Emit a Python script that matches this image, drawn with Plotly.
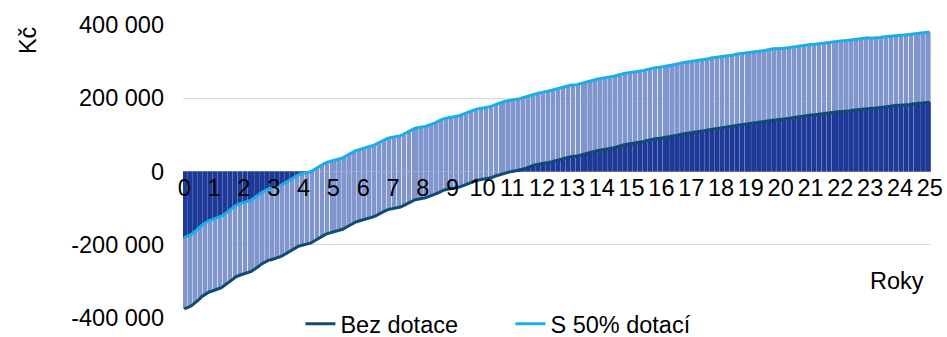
import plotly.graph_objects as go

# Cumulative cash flow, monthly, in thousands of Kč
bez_dotace_k = [
    -375, -373, -370, -366, -361, -355, -349, -342, -337, -332, -329, -327,
    -325, -323, -320, -317, -312, -307, -302, -296, -291, -287, -284, -282,
    -280, -278, -276, -273, -268, -264, -259, -253, -249, -245, -242, -241,
    -239, -237, -235, -232, -228, -224, -219, -214, -210, -207, -204, -202,
    -201, -200, -197, -195, -191, -187, -183, -178, -174, -171, -169, -167,
    -166, -165, -163, -160, -157, -153, -149, -144, -141, -138, -136, -134,
    -133, -132, -130, -127, -124, -121, -117, -113, -109, -107, -104, -103,
    -102, -101, -99, -97, -94, -90, -87, -83, -80, -77, -75, -74,
    -73, -72, -70, -68, -65, -62, -59, -55, -52, -50, -48, -47,
    -46, -45, -44, -42, -39, -36, -34, -30, -28, -26, -24, -23,
    -22, -21, -20, -18, -16, -13, -11, -8, -5, -3, -2, -1,
    0, 1, 2, 4, 6, 8, 11, 14, 16, 18, 19, 20,
    21, 22, 23, 25, 27, 29, 31, 34, 36, 38, 39, 40,
    41, 41, 42, 44, 46, 48, 50, 52, 54, 56, 57, 58,
    59, 59, 60, 62, 63, 65, 67, 70, 71, 73, 74, 75,
    76, 76, 77, 78, 80, 82, 84, 86, 87, 89, 90, 90,
    91, 92, 93, 94, 95, 97, 99, 100, 102, 103, 104, 105,
    106, 106, 107, 108, 109, 111, 113, 114, 116, 117, 118, 118,
    119, 120, 120, 121, 123, 124, 126, 127, 129, 130, 131, 131,
    132, 132, 133, 134, 135, 136, 138, 139, 140, 141, 142, 143,
    143, 143, 144, 145, 146, 147, 149, 150, 151, 152, 153, 153,
    154, 154, 155, 155, 156, 158, 159, 160, 161, 162, 163, 163,
    164, 164, 164, 165, 166, 167, 168, 169, 170, 171, 172, 172,
    173, 173, 173, 174, 175, 176, 177, 178, 179, 180, 180, 181,
    181, 181, 182, 182, 183, 184, 185, 186, 187, 188, 188, 189,
    189,
]

s_dotaci_k = [
    -180, -178, -175, -171, -166, -160, -154, -147, -142, -137, -134, -132,
    -130, -128, -125, -122, -117, -112, -107, -101, -96, -92, -89, -87,
    -85, -83, -81, -78, -73, -69, -64, -58, -54, -50, -47, -46,
    -44, -42, -40, -37, -33, -29, -24, -19, -15, -12, -9, -7,
    -6, -5, -2, 0, 4, 8, 12, 17, 21, 24, 26, 28,
    29, 30, 32, 35, 38, 42, 46, 51, 54, 57, 59, 61,
    62, 63, 65, 68, 71, 74, 78, 82, 86, 88, 91, 92,
    93, 94, 96, 98, 101, 105, 108, 112, 115, 118, 120, 121,
    122, 123, 125, 127, 130, 133, 136, 140, 143, 145, 147, 148,
    149, 150, 151, 153, 156, 159, 161, 165, 167, 169, 171, 172,
    173, 174, 175, 177, 179, 182, 184, 187, 190, 192, 193, 194,
    195, 196, 197, 199, 201, 203, 206, 209, 211, 213, 214, 215,
    216, 217, 218, 220, 222, 224, 226, 229, 231, 233, 234, 235,
    236, 236, 237, 239, 241, 243, 245, 247, 249, 251, 252, 253,
    254, 254, 255, 257, 258, 260, 262, 265, 266, 268, 269, 270,
    270, 270, 271, 272, 274, 276, 278, 280, 281, 283, 284, 284,
    285, 286, 287, 288, 289, 291, 293, 294, 296, 297, 298, 299,
    300, 300, 301, 302, 303, 305, 307, 308, 310, 311, 312, 312,
    313, 314, 314, 315, 317, 318, 320, 321, 323, 324, 325, 325,
    326, 326, 327, 328, 329, 330, 332, 333, 334, 335, 336, 337,
    336, 336, 337, 338, 339, 340, 342, 343, 344, 345, 346, 346,
    347, 347, 348, 348, 349, 351, 352, 353, 354, 355, 356, 356,
    357, 357, 357, 358, 359, 360, 361, 362, 363, 364, 365, 365,
    364, 364, 364, 365, 366, 367, 368, 369, 370, 371, 371, 372,
    372, 372, 373, 373, 374, 375, 376, 377, 378, 379, 379, 380,
    380,
]

year_labels = ["0", "1", "2", "3", "4", "5", "6", "7", "8", "9", "10", "11", "12",
               "13", "14", "15", "16", "17", "18", "19", "20", "21", "22", "23",
               "24", "25"]
y_tick_values = [-400000, -200000, 0, 200000, 400000]
y_tick_text = ["-400 000", "-200 000", "0", "200 000", "400 000"]

months = list(range(len(bez_dotace_k)))
year_tick_pos = months[::12]
bez = [v * 1000 for v in bez_dotace_k]
s50 = [v * 1000 for v in s_dotaci_k]
# part of each month where both series' columns overlap (same sign)
overlap = [(a if abs(a) < abs(b) else b) if a * b > 0 else 0 for a, b in zip(bez, s50)]

FONT = "Liberation Sans, Arial, sans-serif"
FS = 23.5
LIGHT = "rgb(128,150,205)"
DARK = "rgb(30,58,150)"
DARK_GAP = "rgb(88,112,182)"
W = 0.68

fig = go.Figure()
fig.add_bar(x=months, y=overlap, width=1.0, marker=dict(color=DARK_GAP, line_width=0),
            showlegend=False, hoverinfo="skip")
fig.add_bar(x=months, y=bez, width=W, marker=dict(color=LIGHT, line_width=0),
            showlegend=False, hoverinfo="skip")
fig.add_bar(x=months, y=s50, width=W, marker=dict(color=LIGHT, line_width=0),
            showlegend=False, hoverinfo="skip")
fig.add_bar(x=months, y=overlap, width=W, marker=dict(color=DARK, line_width=0),
            showlegend=False, hoverinfo="skip")
fig.add_scatter(x=months, y=bez, mode="lines", name="Bez dotace",
                line=dict(color="#0F4C72", width=3))
fig.add_scatter(x=months, y=s50, mode="lines", name="S 50% dotací",
                line=dict(color="#1AAEE8", width=3))

fig.update_layout(
    width=947, height=337,
    margin=dict(l=183, r=16, t=25, b=19, autoexpand=False),
    paper_bgcolor="white", plot_bgcolor="white",
    barmode="overlay",
    font=dict(family=FONT, size=FS, color="black"),
    legend=dict(orientation="h", x=0.157, xanchor="left", y=-0.02, yanchor="middle",
                font=dict(size=FS), bgcolor="rgba(0,0,0,0)", entrywidth=165),
    xaxis=dict(anchor="free", position=0.5, range=[-0.5, len(months) - 0.5],
               tickvals=year_tick_pos, ticktext=year_labels, tickangle=0,
               showgrid=False, showline=False, zeroline=False, ticks="",
               tickfont=dict(size=FS)),
    yaxis=dict(range=[-400000, 400000], tickvals=y_tick_values, ticktext=y_tick_text,
               showgrid=True, gridcolor="#D9D9D9", gridwidth=1.3,
               zeroline=True, zerolinecolor="#D9D9D9", zerolinewidth=1.3,
               showline=False, ticks="", ticklabelstandoff=18,
               tickfont=dict(size=FS)),
    annotations=[
        dict(text="Kč", xref="paper", yref="paper", x=-0.207, y=0.949,
             textangle=-90, showarrow=False, font=dict(size=FS),
             xanchor="center", yanchor="middle"),
        dict(text="Roky", xref="paper", yref="paper", x=0.9545, y=0.126,
             showarrow=False, font=dict(size=FS), xanchor="center", yanchor="middle"),
    ],
)

fig.write_html(
    "out.html",
    config={"displayModeBar": False},
    post_script="document.body.style.margin='0';document.body.style.overflow='hidden';",
)
